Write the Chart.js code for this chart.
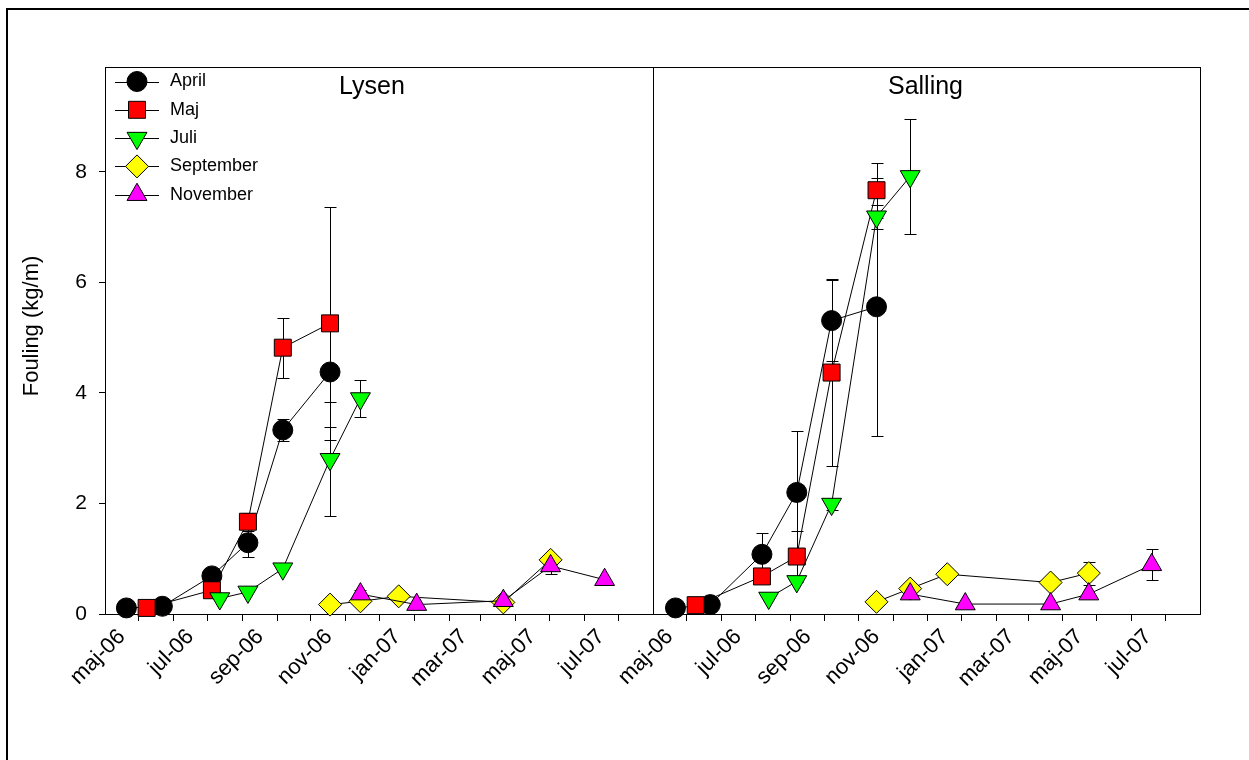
<!DOCTYPE html>
<html>
<head>
<meta charset="utf-8">
<title>Fouling</title>
<script src="https://cdn.jsdelivr.net/npm/chart.js@4.4.1/dist/chart.umd.min.js"></script>
<style>
  html, body { margin: 0; padding: 0; background: #fff; }
  #page { position: relative; width: 1249px; height: 760px; overflow: hidden; background: #fff; }
  #frame { position: absolute; left: 6px; top: 8px; width: 1300px; height: 800px;
           border-left: 2px solid #000; border-top: 2px solid #000; }
  #lysen { position: absolute; left: 0; top: 0; }
  #salling { position: absolute; left: 600px; top: 0; }
</style>
</head>
<body>
<div id="page">
  <div id="frame"></div>
  <canvas id="lysen" width="660" height="760"></canvas>
  <canvas id="salling" width="649" height="760"></canvas>
</div>
<script>
// ---- data ---------------------------------------------------------------
const seriesNames = ['April', 'Maj', 'Juli', 'September', 'November'];

// Lysen
const lysenAprilDates  = ['2006-04-20', '2006-05-22', '2006-07-05', '2006-08-06', '2006-09-06', '2006-10-18'];
const lysenAprilValues = [0.11, 0.14, 0.69, 1.29, 3.33, 4.38];
const lysenAprilErrors = [0, 0, 0, 0.26, 0.20, 1.00];

const lysenMajDates  = ['2006-05-08', '2006-07-05', '2006-08-06', '2006-09-06', '2006-10-18'];
const lysenMajValues = [0.11, 0.43, 1.67, 4.82, 5.26];
const lysenMajErrors = [0, 0, 0.16, 0.54, 2.11];

const lysenJuliDates  = ['2006-07-12', '2006-08-06', '2006-09-06', '2006-10-18', '2006-11-14'];
const lysenJuliValues = [0.28, 0.40, 0.82, 2.80, 3.90];
const lysenJuliErrors = [0, 0, 0, 1.03, 0.34];

const lysenSeptemberDates  = ['2006-10-18', '2006-11-14', '2006-12-18', '2007-03-21', '2007-05-02'];
const lysenSeptemberValues = [0.17, 0.23, 0.32, 0.21, 0.98];
const lysenSeptemberErrors = [0, 0, 0, 0, 0];

const lysenNovemberDates  = ['2006-11-14', '2007-01-03', '2007-03-21', '2007-05-02', '2007-06-19'];
const lysenNovemberValues = [0.36, 0.17, 0.24, 0.87, 0.62];
const lysenNovemberErrors = [0.08, 0, 0, 0.15, 0];

// Salling
const sallingAprilDates  = ['2006-04-21', '2006-05-22', '2006-07-07', '2006-08-07', '2006-09-07', '2006-10-17'];
const sallingAprilValues = [0.11, 0.17, 1.08, 2.20, 5.31, 5.56];
const sallingAprilErrors = [0, 0, 0.39, 1.12, 0.74, 2.33];

const sallingMajDates  = ['2006-05-09', '2006-07-07', '2006-08-07', '2006-09-07', '2006-10-17'];
const sallingMajValues = [0.16, 0.68, 1.04, 4.37, 7.67];
const sallingMajErrors = [0, 0, 0.46, 1.70, 0.50];

const sallingJuliDates  = ['2006-07-13', '2006-08-07', '2006-09-07', '2006-10-17', '2006-11-16'];
const sallingJuliValues = [0.29, 0.59, 1.99, 7.19, 7.92];
const sallingJuliErrors = [0, 0, 0.10, 0.22, 1.04];

const sallingSeptemberDates  = ['2006-10-17', '2006-11-16', '2006-12-19', '2007-03-21', '2007-04-24'];
const sallingSeptemberValues = [0.22, 0.46, 0.72, 0.57, 0.74];
const sallingSeptemberErrors = [0, 0, 0, 0, 0.21];

const sallingNovemberDates  = ['2006-11-16', '2007-01-04', '2007-03-21', '2007-04-24', '2007-06-19'];
const sallingNovemberValues = [0.36, 0.18, 0.18, 0.36, 0.89];
const sallingNovemberErrors = [0, 0, 0, 0, 0.28];

// axes
const xStartDate = '2006-04-01';
const xEndDate   = '2007-08-01';
const tickDates  = ['2006-05-01', '2006-06-01', '2006-07-01', '2006-08-01', '2006-09-01', '2006-10-01',
                    '2006-11-01', '2006-12-01', '2007-01-01', '2007-02-01', '2007-03-01', '2007-04-01',
                    '2007-05-01', '2007-06-01', '2007-07-01'];
const tickLabels = ['maj-06', '', 'jul-06', '', 'sep-06', '', 'nov-06', '', 'jan-07', '', 'mar-07', '',
                    'maj-07', '', 'jul-07'];
const yTicks = [0, 2, 4, 6, 8];
const yMin = 0, yMax = 9.9;

// ---- helpers ------------------------------------------------------------
const FONT = 'Arial, "Liberation Sans", Helvetica, sans-serif';
const DAY = 86400000;
const EPOCH = Date.UTC(2006, 4, 1);
function dayNumber(s) {
  const [y, m, d] = s.split('-').map(Number);
  return (Date.UTC(y, m - 1, d) - EPOCH) / DAY;
}
const seriesStyles = [
  { pointStyle: 'circle',   radius: 10,   rotation: 0,   color: '#000000' },
  { pointStyle: 'rect',     radius: 12,   rotation: 0,   color: '#ff0000' },
  { pointStyle: 'triangle', radius: 11.5, rotation: 180, color: '#00ff00' },
  { pointStyle: 'rectRot',  radius: 11.5, rotation: 0,   color: '#ffff00' },
  { pointStyle: 'triangle', radius: 11.5, rotation: 0,   color: '#ff00ff' }
];

function makeDataset(i, dates, values, errors) {
  const st = seriesStyles[i];
  return {
    label: seriesNames[i],
    data: dates.map((d, k) => ({ x: dayNumber(d), y: values[k] })),
    errors: errors,
    borderColor: '#000',
    borderWidth: 1,
    tension: 0,
    fill: false,
    pointStyle: st.pointStyle,
    pointRadius: st.radius,
    pointHoverRadius: st.radius,
    pointRotation: st.rotation,
    pointBackgroundColor: st.color,
    pointBorderColor: '#000',
    pointBorderWidth: 1,
    order: seriesNames.length - i,
    clip: false
  };
}

// vertical error bars with caps, drawn under the markers
const errorBarPlugin = {
  id: 'errorBars',
  beforeDatasetsDraw(chart) {
    const { ctx, scales: { x, y } } = chart;
    ctx.save();
    ctx.strokeStyle = '#000';
    ctx.lineWidth = 1;
    chart.data.datasets.forEach(ds => {
      (ds.errors || []).forEach((e, k) => {
        if (!e) return;
        const p = ds.data[k];
        const px = Math.round(x.getPixelForValue(p.x)) + 0.5;
        const top = Math.round(y.getPixelForValue(p.y + e)) + 0.5;
        const bot = Math.round(y.getPixelForValue(p.y - e)) + 0.5;
        ctx.beginPath();
        ctx.moveTo(px, top); ctx.lineTo(px, bot);
        ctx.moveTo(px - 6, top); ctx.lineTo(px + 6, top);
        ctx.moveTo(px - 6, bot); ctx.lineTo(px + 6, bot);
        ctx.stroke();
      });
    });
    ctx.restore();
  }
};

// plot frame, panel title, optional legend and y title
const panelPlugin = {
  id: 'panel',
  beforeDatasetsDraw(chart, args, opts) {
    const { ctx, chartArea: a } = chart;
    ctx.save();
    ctx.strokeStyle = '#000';
    ctx.lineWidth = 1;
    ctx.strokeRect(Math.round(a.left) + 0.5, Math.round(a.top) + 0.5,
                   Math.round(a.right - a.left), Math.round(a.bottom - a.top));
    ctx.fillStyle = '#000';
    ctx.font = '25px ' + FONT;
    ctx.textAlign = 'center';
    ctx.textBaseline = 'middle';
    ctx.fillText(opts.title, (a.left + a.right) / 2 + (opts.titleShift || 0), a.top + 20);
    if (opts.yTitle) {
      ctx.save();
      ctx.translate(32, 326);
      ctx.rotate(-Math.PI / 2);
      ctx.font = '22px ' + FONT;
      ctx.fillText(opts.yTitle, 0, 0);
      ctx.restore();
    }
    ctx.restore();
  },
  afterDatasetsDraw(chart, args, opts) {
    if (!opts.legend) return;
    const { ctx, chartArea: a } = chart;
    ctx.save();
    chart.data.datasets.forEach((ds, i) => {
      const yy = a.top + 14.5 + i * 28.3;
      ctx.strokeStyle = '#000';
      ctx.lineWidth = 1;
      ctx.beginPath();
      ctx.moveTo(a.left + 10, Math.round(yy) + 0.5);
      ctx.lineTo(a.left + 54, Math.round(yy) + 0.5);
      ctx.stroke();
      ctx.fillStyle = ds.pointBackgroundColor;
      ctx.strokeStyle = '#000';
      Chart.helpers.drawPoint(ctx, {
        pointStyle: ds.pointStyle, radius: ds.pointRadius,
        rotation: ds.pointRotation, borderWidth: 1
      }, a.left + 32, yy);
      ctx.fillStyle = '#000';
      ctx.font = '18px ' + FONT;
      ctx.textAlign = 'left';
      ctx.textBaseline = 'middle';
      ctx.fillText(ds.label, a.left + 65, yy);
    });
    ctx.restore();
  }
};

function makeChart(canvasId, datasets, panelOpts, showY, padding) {
  return new Chart(document.getElementById(canvasId), {
    type: 'line',
    data: { datasets },
    plugins: [errorBarPlugin, panelPlugin],
    options: {
      responsive: false,
      animation: false,
      devicePixelRatio: 1,
      layout: { padding, autoPadding: false },
      plugins: {
        legend: { display: false },
        tooltip: { enabled: false },
        panel: panelOpts
      },
      scales: {
        x: {
          type: 'linear',
          min: dayNumber(xStartDate),
          max: dayNumber(xEndDate),
          afterBuildTicks: s => { s.ticks = tickDates.map(d => ({ value: dayNumber(d) })); },
          afterFit: s => { s.height = 146; s.paddingLeft = 0; s.paddingRight = 0; },
          grid: { drawOnChartArea: false, drawTicks: true, tickLength: 7, color: '#000' },
          border: { display: true, color: '#000' },
          ticks: {
            autoSkip: false, maxRotation: 45, minRotation: 45, padding: 3, labelOffset: -17,
            color: '#000', font: { family: FONT, size: 22 },
            callback: (v, i) => tickLabels[i]
          }
        },
        y: {
          display: showY,
          min: yMin,
          max: yMax,
          afterBuildTicks: s => { s.ticks = yTicks.map(v => ({ value: v })); },
          afterFit: s => { s.width = showY ? 105 : 0; s.paddingTop = 0; s.paddingBottom = 0; },
          grid: { drawOnChartArea: false, drawTicks: true, tickLength: 6, color: '#000' },
          border: { display: true, color: '#000' },
          ticks: { color: '#000', font: { family: FONT, size: 21 }, padding: 12 }
        }
      }
    }
  });
}

makeChart('lysen', [
  makeDataset(0, lysenAprilDates, lysenAprilValues, lysenAprilErrors),
  makeDataset(1, lysenMajDates, lysenMajValues, lysenMajErrors),
  makeDataset(2, lysenJuliDates, lysenJuliValues, lysenJuliErrors),
  makeDataset(3, lysenSeptemberDates, lysenSeptemberValues, lysenSeptemberErrors),
  makeDataset(4, lysenNovemberDates, lysenNovemberValues, lysenNovemberErrors)
], { title: 'Lysen', titleShift: -7, legend: true, yTitle: 'Fouling (kg/m)' }, true,
   { left: 0, top: 67, right: 7, bottom: 0 });

makeChart('salling', [
  makeDataset(0, sallingAprilDates, sallingAprilValues, sallingAprilErrors),
  makeDataset(1, sallingMajDates, sallingMajValues, sallingMajErrors),
  makeDataset(2, sallingJuliDates, sallingJuliValues, sallingJuliErrors),
  makeDataset(3, sallingSeptemberDates, sallingSeptemberValues, sallingSeptemberErrors),
  makeDataset(4, sallingNovemberDates, sallingNovemberValues, sallingNovemberErrors)
], { title: 'Salling', titleShift: -1, legend: false }, false,
   { left: 53, top: 67, right: 49, bottom: 0 });
</script>
</body>
</html>
